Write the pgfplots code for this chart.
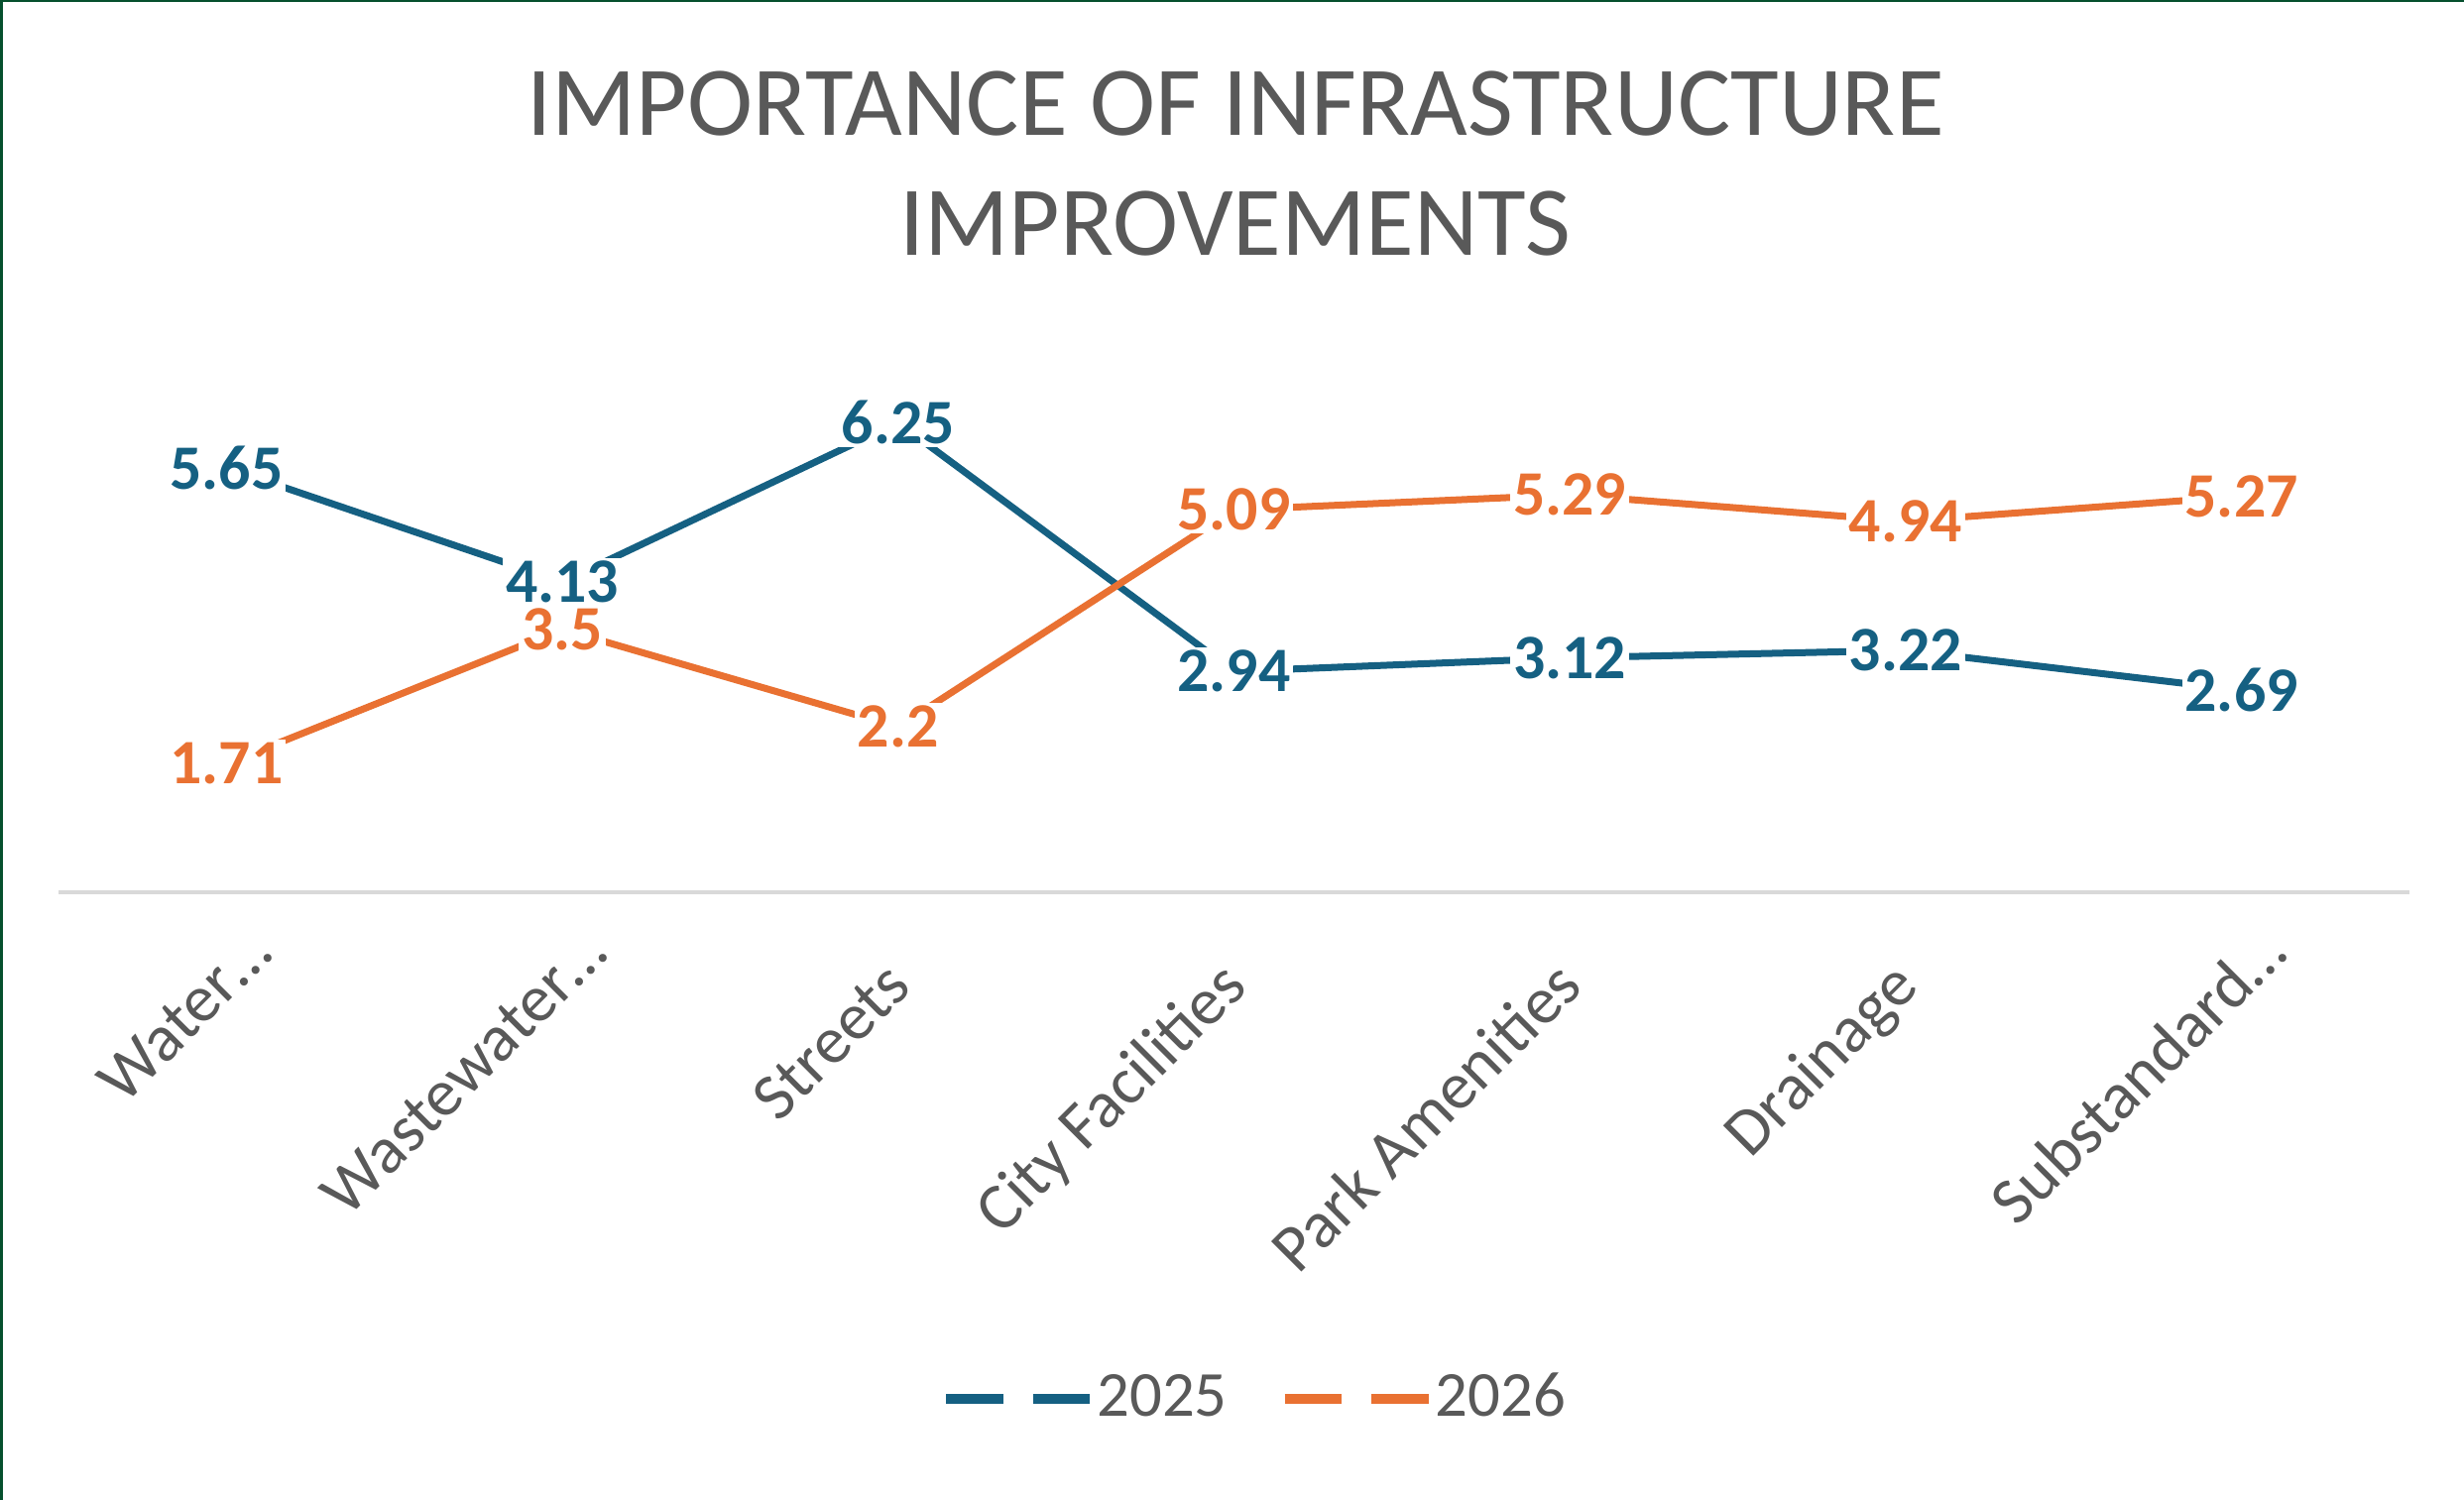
\documentclass[border=0pt]{standalone}
\usepackage{pgfplots}
\pgfplotsset{compat=1.18}
\usepackage{fontspec}
\setmainfont{Carlito}
\definecolor{s25}{HTML}{156082}
\definecolor{s26}{HTML}{E97132}
\definecolor{txtgray}{HTML}{595959}
\definecolor{axgray}{HTML}{D9D9D9}
\definecolor{framegreen}{RGB}{6,80,46}

\begin{document}
\begin{tikzpicture}
\useasboundingbox (-11.8bp,-122.6bp) rectangle (485.2bp,180bp);
\begin{axis}[
  at={(0,0)}, anchor=south west,
  scale only axis, width=474.2bp, height=106.1bp,
  xmin=-0.5, xmax=6.5, ymin=0, ymax=7,
  axis x line=bottom, axis y line=none,
  x axis line style={draw=axgray, line width=0.7bp, -},
  xtick={0,1,2,3,4,5,6},
  xticklabels={{Water\ldots\kern-9.4bp}, {Wastewater\ldots\kern-9.4bp}, Streets, City Facilities,
               Park Amenities, Drainage, {Substandard\ldots\kern-9.4bp}},
  major tick length=0pt,
  xticklabel style={font=\fontsize{13.5}{16}\selectfont, text=txtgray,
    anchor=base east, inner sep=0pt, xshift=3.2bp, yshift=-19.4bp, rotate=45},
  clip=false,
  point meta=explicit symbolic,
  nodes near coords,
  nodes near coords style={anchor=center, font=\fontsize{12.8}{15}\selectfont\bfseries,
    fill=white, inner sep=0.6bp},
  legend image code/.code={
    \draw[#1, line width=2bp] (0bp,0bp) -- (11.5bp,0bp);
    \draw[#1, line width=2bp] (17.5bp,0bp) -- (29bp,0bp);
  },
  legend columns=2,
  legend cell align=left,
  legend style={at={(0.5083,-0.963)}, anchor=center, draw=none, fill=none,
    inner sep=0pt, font=\fontsize{13}{15}\selectfont, text=txtgray,
    nodes={inner sep=0pt},
    /tikz/every even column/.append style={column sep=10.6bp},
    /tikz/every odd column/.append style={column sep=0.4bp}},
]
% 2025
\addplot[s25, line width=1.4bp, mark=none, nodes near coords style={text=s25}]
  coordinates {
    (0,5.65) [5.65]
    (1,4.13) [4.13]
    (2,6.25) [6.25]
    (3,2.94) [2.94]
    (4,3.12) [3.12]
    (5,3.22) [3.22]
    (6,2.69) [2.69]
  };
\addlegendentry{2025}
% 2026
\addplot[s26, line width=1.4bp, mark=none, nodes near coords style={text=s26}]
  coordinates {
    (0,1.71) [1.71]
    (1,3.5)  [3.5]
    (2,2.2)  [2.2]
    (3,5.09) [5.09]
    (4,5.29) [5.29]
    (5,4.94) [4.94]
    (6,5.27) [5.27]
  };
\addlegendentry{2026}
\end{axis}
% title
\node[anchor=base, text=txtgray, font=\fontsize{20}{24}\selectfont, inner sep=0pt]
  at (237.4bp,152.6bp) {IMPORTANCE OF INFRASTRUCTURE};
\node[anchor=base, text=txtgray, font=\fontsize{20}{24}\selectfont, inner sep=0pt]
  at (237.4bp,128.4bp) {IMPROVEMENTS};
% frame edges
\draw[framegreen, line width=0.6bp] (-11.5bp,-122.6bp) -- (-11.5bp,180bp);
\draw[framegreen, line width=0.4bp] (-11.8bp,179.8bp) -- (485.2bp,179.8bp);
\end{tikzpicture}
\end{document}
